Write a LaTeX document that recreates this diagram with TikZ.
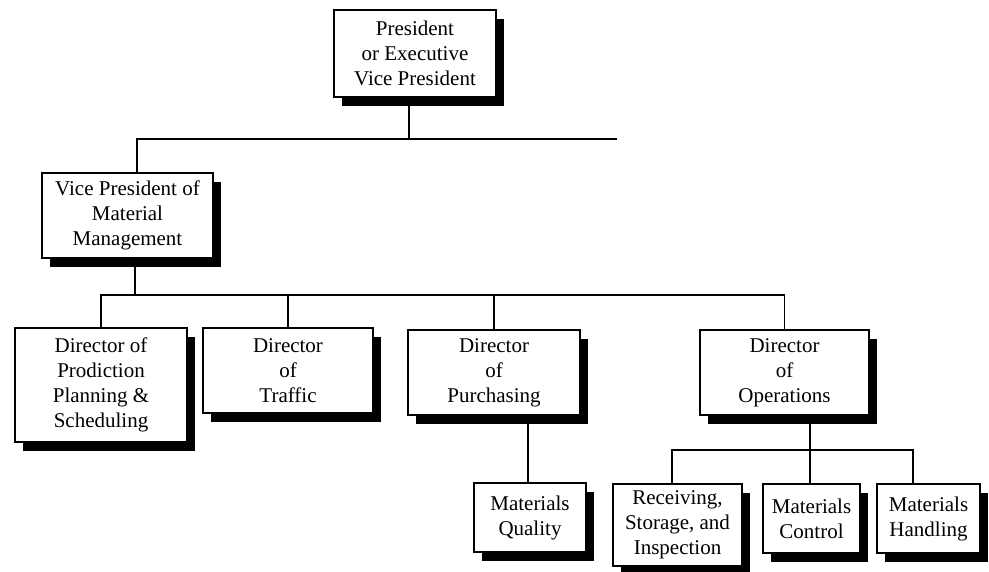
\documentclass[tikz,border=0pt]{standalone}
\usepackage{fontspec}
\setmainfont{Liberation Serif}
\usetikzlibrary{shadows}
\begin{document}
\begin{tikzpicture}[x=1pt,y=-1pt,
  orgbox/.style={draw, line width=1.2pt, fill=white, align=center, inner sep=2pt,
    font=\fontsize{21}{25}\selectfont,
    drop shadow={shadow xshift=8pt, shadow yshift=-9pt, fill=black, opacity=1}},
  link/.style={line width=1.2pt}]
\useasboundingbox (0,0) rectangle (989,572);

% boxes
\node[orgbox, minimum width=162pt, minimum height=87pt] (pres) at (415,53.5)
  {President\\or Executive\\Vice President};
\node[orgbox, minimum width=171pt, minimum height=85pt] (vp) at (127.5,215.5)
  {Vice President of\\Material\\Management};
\node[orgbox, minimum width=172pt, minimum height=114pt] (dpp) at (101,385)
  {Director of\\Prodiction\\Planning \&\\Scheduling};
\node[orgbox, minimum width=170pt, minimum height=85pt] (dt) at (288,370.5)
  {Director\\of\\Traffic};
\node[orgbox, minimum width=172pt, minimum height=85pt] (dpu) at (494,372.5)
  {Director\\of\\Purchasing};
\node[orgbox, minimum width=169pt, minimum height=85pt] (dop) at (784.5,372.5)
  {Director\\of\\Operations};
\node[orgbox, minimum width=112pt, minimum height=69pt] (mq) at (530,517.5)
  {Materials\\Quality};
\node[orgbox, minimum width=129pt, minimum height=82pt] (rsi) at (677.5,525)
  {Receiving,\\Storage, and\\Inspection};
\node[orgbox, minimum width=97pt, minimum height=69pt] (mc) at (811.5,518.5)
  {Materials\\Control};
\node[orgbox, minimum width=103pt, minimum height=69pt] (mh) at (928.5,518.5)
  {Materials\\Handling};

% bus lines and taps
\coordinate (topTap) at (409,139);
\coordinate (topL) at (137,139);
\coordinate (topR) at (617,139);
\coordinate (bus2) at (0,295);
\coordinate (vpTap) at (135,295);
\coordinate (mqTap) at (528,0);
\coordinate (opTap) at (810,450);
\coordinate (rsiTap) at (672,450);
\coordinate (mhTap) at (913,450);

% connectors
\draw[link] (pres.south -| topTap) -- (topTap);
\draw[link] (vp.north -| topL) -- (topL) -- (topR);
\draw[link] (vp.south -| vpTap) -- (vpTap);
\draw[link] (dpp.north) -- (dpp.north |- bus2) -- (dop.north |- bus2) -- (dop.north);
\draw[link] (dt.north) -- (dt.north |- bus2);
\draw[link] (dpu.north) -- (dpu.north |- bus2);
\draw[link] (dpu.south -| mqTap) -- (mq.north -| mqTap);
\draw[link] (dop.south -| opTap) -- (opTap);
\draw[link] (rsi.north -| rsiTap) -- (rsiTap) -- (mhTap) -- (mh.north -| mhTap);
\draw[link] (mc.north -| opTap) -- (opTap);
\end{tikzpicture}
\end{document}
